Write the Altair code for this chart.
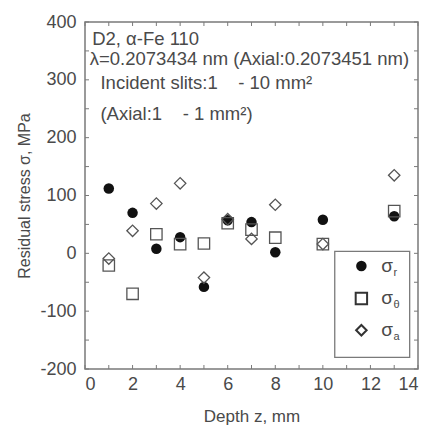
import altair as alt
import pandas as pd

depth = [1, 2, 3, 4, 5, 6, 7, 8, 10, 13]
sigma_r = [112, 70, 8, 28, -58, 57, 54, 2, 58, 64]
sigma_t = [-21, -70, 33, 16, 17, 52, 41, 27, 16, 73]
sigma_a = [-9, 39, 86, 121, -42, 59, 25, 84, 16, 135]

x_ticks = list(range(0, 15, 2))
y_ticks = list(range(-200, 401, 100))
x_minor = list(range(0, 15, 1))
y_minor = list(range(-200, 401, 50))

W, H = 333, 347
FONT = "Liberation Sans"
GRAY = "#4a4a4a"
FRAME = "#7a7a7a"

xs = alt.Scale(domain=[0, 14], nice=False, zero=False)
ys = alt.Scale(domain=[-200, 400], nice=False, zero=False)

xaxis = alt.Axis(values=x_ticks, tickSize=0, domain=False, grid=False,
                 labelFontSize=18, labelPadding=6, labelColor=GRAY,
                 labelFont=FONT, title="Depth z, mm", titleFont=FONT,
                 titleFontSize=17, titleFontWeight="normal",
                 titleColor=GRAY, titlePadding=15)
yaxis = alt.Axis(values=y_ticks, tickSize=0, domain=False, grid=False,
                 labelFontSize=18, labelPadding=9, labelColor=GRAY,
                 labelFont=FONT, labelExpr="toString(datum.value)",
                 title="Residual stress σ, MPa",
                 titleFont=FONT, titleFontSize=16,
                 titleFontWeight="normal", titleColor=GRAY,
                 titlePadding=7)

X = alt.X("z:Q", scale=xs, axis=xaxis)
Y = alt.Y("s:Q", scale=ys, axis=yaxis)

df_r = pd.DataFrame({"z": depth, "s": sigma_r})
df_t = pd.DataFrame({"z": depth, "s": sigma_t})
df_a = pd.DataFrame({"z": depth, "s": sigma_a})

pts_r = alt.Chart(df_r).mark_point(shape="circle", filled=True, size=110,
                                   color="#111111", opacity=1).encode(x=X, y=Y)
pts_t = alt.Chart(df_t).mark_point(shape="square", filled=False, size=130,
                                   color="#555555", strokeWidth=1.3, opacity=1).encode(x=X, y=Y)
pts_a = alt.Chart(df_a).mark_point(shape="diamond", filled=False, size=130,
                                   color="#555555", strokeWidth=1.3, opacity=1).encode(x=X, y=Y)

# inward tick marks on all four sides
dxm = pd.DataFrame({"z": x_minor})
dym = pd.DataFrame({"s": y_minor})
tk = dict(color=FRAME, strokeWidth=1)
xb = alt.Chart(dxm).mark_rule(**tk).encode(x=X, y=alt.value(H), y2=alt.value(H - 4))
xt = alt.Chart(dxm).mark_rule(**tk).encode(x=X, y=alt.value(0), y2=alt.value(4))
yl = alt.Chart(dym).mark_rule(**tk).encode(y=Y, x=alt.value(0), x2=alt.value(4))
yr = alt.Chart(dym).mark_rule(**tk).encode(y=Y, x=alt.value(W), x2=alt.value(W - 4))

# annotation text
SP = "\u00a0"
ann = pd.DataFrame({
    "z": [0.3, 0.2, 0.65, 0.65],
    "s": [360, 325, 285, 230],
    "t": ["D2, α-Fe 110", "λ=0.2073434 nm (Axial:0.2073451 nm)",
          "Incident slits:1" + SP * 4 + "- 10 mm²", "(Axial:1" + SP * 4 + "- 1 mm²)"],
})
ann_txt = alt.Chart(ann).mark_text(align="left", baseline="alphabetic", font=FONT,
                                   fontSize=18.5, color=GRAY).encode(x=X, y=Y, text="t:N")

# legend box
box = alt.Chart(pd.DataFrame({"z": [10.5], "z2": [13.65], "s": [3.5], "s2": [-180]})).mark_rect(
    fill="white", stroke=FRAME, strokeWidth=1.3).encode(x=X, x2="z2:Q", y=Y, y2="s2:Q")
leg_y = [-22, -78, -133]
lg_r = alt.Chart(pd.DataFrame({"z": [11.62], "s": [leg_y[0]]})).mark_point(
    shape="circle", filled=True, size=110, color="#111111", opacity=1).encode(x=X, y=Y)
lg_t = alt.Chart(pd.DataFrame({"z": [11.62], "s": [leg_y[1]]})).mark_point(
    shape="square", filled=False, size=130, color="#333333", strokeWidth=2, opacity=1).encode(x=X, y=Y)
lg_a = alt.Chart(pd.DataFrame({"z": [11.62], "s": [leg_y[2]]})).mark_point(
    shape="diamond", filled=False, size=110, color="#333333", strokeWidth=2, opacity=1).encode(x=X, y=Y)
sig = pd.DataFrame({"z": [12.45] * 3, "s": leg_y, "t": ["σ"] * 3})
sig_txt = alt.Chart(sig).mark_text(align="left", baseline="middle", font=FONT,
                                   fontSize=19, color=GRAY).encode(x=X, y=Y, text="t:N")
sub = pd.DataFrame({"z": [12.97] * 3, "s": [v - 12 for v in leg_y], "t": ["r", "θ", "a"]})
sub_txt = alt.Chart(sub).mark_text(align="left", baseline="middle", font=FONT,
                                   fontSize=11, color=GRAY).encode(x=X, y=Y, text="t:N")

chart = alt.layer(
    pts_r, pts_t, pts_a, xb, xt, yl, yr, ann_txt,
    box, lg_r, lg_t, lg_a, sig_txt, sub_txt
).properties(
    width=W, height=H,
    autosize=alt.AutoSizeParams(type="none"),
    padding={"left": 85, "top": 22, "right": 8, "bottom": 56},
    background="white",
).configure_view(stroke=FRAME, strokeWidth=1.5)

chart.save("out.html", embed_options={"renderer": "svg", "actions": False})
